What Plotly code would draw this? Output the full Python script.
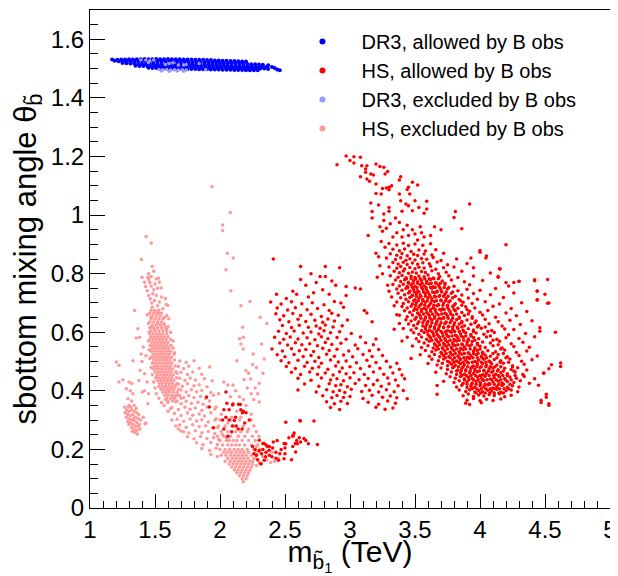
import plotly.graph_objects as go

# points, (m_sbottom [TeV], mixing angle)
dr3_allowed = [
    (1.17,1.531),
    (1.21,1.530),(1.24,1.531),(1.27,1.531),(1.30,1.532),(1.33,1.531),(1.36,1.532),(1.39,1.532),(1.42,1.533),(1.45,1.532),(1.48,1.532),
    (1.51,1.533),(1.54,1.532),(1.57,1.532),(1.60,1.533),(1.63,1.532),(1.66,1.532),(1.69,1.532),(1.72,1.531),(1.75,1.531),(1.78,1.531),
    (1.81,1.530),(1.84,1.530),(1.87,1.530),(1.90,1.529),(1.93,1.529),(1.96,1.528),(1.99,1.528),(2.02,1.527),(2.05,1.527),(2.08,1.526),
    (2.11,1.526),(2.14,1.525),(2.17,1.524),(2.20,1.524),
    (1.19,1.527),(1.22,1.525),(1.25,1.525),(1.28,1.524),(1.31,1.524),(1.34,1.525),(1.37,1.524),(1.40,1.524),(1.43,1.525),(1.46,1.524),
    (1.49,1.524),(1.52,1.525),(1.55,1.524),(1.58,1.524),(1.61,1.524),(1.64,1.523),(1.67,1.524),(1.70,1.523),(1.73,1.523),(1.76,1.522),
    (1.79,1.522),(1.82,1.522),(1.85,1.521),(1.88,1.521),(1.91,1.521),(1.94,1.520),(1.97,1.520),(2.00,1.519),(2.03,1.519),(2.06,1.518),
    (2.09,1.518),(2.12,1.517),(2.15,1.517),(2.18,1.516),(2.21,1.516),(2.24,1.515),(2.27,1.515),(2.30,1.514),(2.33,1.513),
    (1.25,1.519),(1.28,1.518),(1.31,1.517),(1.34,1.517),(1.37,1.516),(1.40,1.516),(1.43,1.516),(1.46,1.517),(1.49,1.516),(1.52,1.516),
    (1.55,1.516),(1.58,1.515),(1.61,1.516),(1.64,1.516),(1.67,1.515),(1.70,1.515),(1.73,1.515),(1.76,1.514),(1.79,1.514),(1.82,1.514),
    (1.85,1.513),(1.88,1.513),(1.91,1.513),(1.94,1.512),(1.97,1.512),(2.00,1.511),(2.03,1.511),(2.06,1.510),(2.09,1.510),(2.12,1.510),
    (2.15,1.509),(2.18,1.509),(2.21,1.508),(2.24,1.508),(2.27,1.507),(2.30,1.507),(2.33,1.506),(2.36,1.506),
    (1.35,1.510),(1.38,1.509),(1.41,1.509),(1.44,1.509),(1.47,1.508),(1.50,1.508),(1.53,1.508),(1.56,1.508),(1.59,1.508),(1.62,1.507),
    (1.65,1.508),(1.68,1.507),(1.71,1.507),(1.74,1.507),(1.77,1.506),(1.80,1.506),(1.83,1.506),(1.86,1.505),(1.89,1.505),(1.92,1.505),
    (1.95,1.504),(1.98,1.504),(2.01,1.503),(2.04,1.503),(2.07,1.503),(2.10,1.502),(2.13,1.502),(2.16,1.502),(2.19,1.501),(2.22,1.501),
    (2.25,1.501),(2.28,1.500),(2.31,1.500),(2.34,1.500),(2.37,1.499),
    (1.45,1.503),(1.48,1.502),(1.51,1.502),(1.54,1.501),(1.57,1.501),(1.60,1.501),(1.63,1.500),(1.66,1.500),(1.69,1.500),(1.72,1.500),
    (1.75,1.499),(1.78,1.499),(1.81,1.499),(1.84,1.498),(1.87,1.498),(1.90,1.498),(1.93,1.497),(1.96,1.497),(1.99,1.497),(2.02,1.496),
    (2.05,1.496),(2.08,1.496),(2.11,1.495),(2.14,1.495),(2.17,1.495),(2.20,1.494),(2.23,1.494),(2.26,1.494),(2.29,1.494),
    (2.37,1.511),(2.40,1.505),(2.42,1.502),(2.44,1.497),(2.46,1.494),
]

dr3_excluded = [
    (1.39,1.529),(1.43,1.529),(1.46,1.527),(1.49,1.529),(1.45,1.521),(1.58,1.514),(1.61,1.517),(1.64,1.520),(1.68,1.512),
    (1.72,1.512),(1.74,1.514),(1.84,1.517),(1.89,1.496),
    (1.53,1.497),(1.56,1.496),(1.59,1.497),(1.62,1.495),(1.65,1.496),(1.68,1.495),(1.71,1.496),(1.74,1.495),
    (1.55,1.492),(1.61,1.491),(1.67,1.492),(1.72,1.491),
]

# HS allowed: the big diagonal cloud at 3.3-4.6 TeV
hs_allowed_big = [
    (2.97,1.202),(3.03,1.199),(3.08,1.197),(3.00,1.186),(3.03,1.178),(2.90,1.172),(3.09,1.168),(3.13,1.168),(3.12,1.157),
    (3.20,1.174),(3.23,1.166),(3.26,1.163),(3.29,1.149),(3.27,1.140),(3.12,1.146),(3.16,1.140),(3.18,1.137),(3.08,1.131),
    (3.13,1.123),(3.15,1.115),(3.20,1.106),(3.25,1.091),(3.28,1.092),(3.30,1.095),(3.32,1.100),(3.39,1.131),(3.38,1.120),
    (3.48,1.112),(3.52,1.103),(3.45,1.095),(3.44,1.087),(3.38,1.072),(3.39,1.049),(3.46,1.072),(3.50,1.049),(3.59,1.047),
    (3.59,1.021),(3.57,1.006),(3.53,1.026),(3.48,1.015),(3.43,1.038),(3.45,1.032),(3.40,1.013),(3.30,1.026),(3.30,1.013),
    (3.26,1.004),(3.26,0.981),(3.22,1.034),(3.16,1.041),(3.17,1.012),(3.17,0.990),(3.20,1.074),(3.24,1.072),(3.30,1.086),
    (3.81,1.012),(3.80,0.992),(3.92,1.038),(3.86,0.953),
    (3.35,0.99),(3.38,0.975),(3.31,0.97),(3.28,0.955),(3.23,0.96),(3.25,0.945),(3.41,0.95),(3.45,0.93),(3.50,0.935),
    (3.55,0.94),(3.57,0.925),(3.62,0.93),(3.54,0.96),(3.14,0.93),(3.24,0.91),(3.27,0.89),(3.22,0.858),(3.23,0.827),
    (3.21,0.788),(3.44,0.965),(3.48,0.95),(3.36,0.94),(3.33,0.925),(3.40,0.925),(3.52,0.915),(3.65,0.96),(3.70,0.95),
    (3.20,0.87),(3.25,0.80),(3.29,0.76),(3.32,0.72),(3.30,0.74),(3.34,0.69),(3.34,0.61),(3.40,0.57),(3.47,0.51),
    (3.36,0.66),(3.38,0.63),
    (4.52,0.78),(4.50,0.73),(4.53,0.70),(4.58,0.60),(4.62,0.483),(4.53,0.475),(4.49,0.46),(4.53,0.356),(4.51,0.378),
    (4.47,0.36),(4.46,0.603),(4.44,0.74),(4.42,0.776),(4.44,0.71),(4.30,0.774),(4.26,0.77),(4.20,0.77),(4.14,0.79),
    (4.155,0.816),(4.045,0.853),(4.00,0.873),(3.93,0.853),(3.95,0.82),
    (3.30,.903),(3.36,.898),(3.41,.904),(3.45,.896),(3.50,.901),(3.56,.897),(3.62,.902),(4.20,.899),
    (3.33,.883),(3.38,.878),(3.42,.884),(3.47,.876),(3.53,.881),(3.58,.877),(3.66,.882),(4.00,.879),
    (3.31,.868),(3.36,.863),(3.40,.869),(3.44,.861),(3.49,.866),(3.52,.862),(3.57,.867),(3.63,.864),(3.72,.870),(4.05,.860),
    (3.28,.853),(3.35,.848),(3.39,.854),(3.43,.846),(3.46,.851),(3.50,.847),(3.55,.852),(3.59,.849),(3.64,.855),(3.70,.845),(3.82,.850),
    (3.33,.838),(3.37,.833),(3.41,.839),(3.44,.831),(3.48,.836),(3.52,.832),(3.56,.837),(3.61,.834),(3.67,.840),(3.75,.830),(3.90,.835),
    (3.30,.823),(3.36,.818),(3.39,.824),(3.42,.816),(3.46,.821),(3.50,.817),(3.53,.822),(3.57,.819),(3.62,.825),(3.66,.815),
    (3.72,.820),(3.80,.823),(4.15,.817),
    (3.34,.808),(3.38,.803),(3.41,.809),(3.45,.801),(3.48,.806),(3.51,.802),(3.55,.807),(3.58,.804),(3.63,.810),(3.68,.800),
    (3.74,.805),(3.86,.808),(4.08,.802),
    (3.31,.793),(3.37,.788),(3.40,.794),(3.43,.786),(3.47,.791),(3.50,.787),(3.53,.792),(3.57,.789),(3.60,.795),(3.64,.785),
    (3.69,.790),(3.76,.793),(3.83,.787),(3.95,.792),(4.14,.788),
    (3.35,.778),(3.39,.773),(3.42,.779),(3.45,.771),(3.49,.776),(3.52,.772),(3.55,.777),(3.59,.774),(3.62,.780),(3.66,.770),
    (3.71,.775),(3.78,.778),(3.88,.772),(4.02,.777),(4.30,.773),(4.42,.779),
    (3.33,.763),(3.38,.758),(3.41,.764),(3.44,.756),(3.47,.761),(3.50,.757),(3.54,.762),(3.57,.759),(3.61,.765),(3.64,.755),
    (3.68,.760),(3.73,.763),(3.80,.757),(3.92,.762),(4.22,.758),
    (3.36,.748),(3.40,.743),(3.43,.749),(3.46,.741),(3.49,.746),(3.52,.742),(3.56,.747),(3.59,.744),(3.63,.750),(3.67,.740),
    (3.70,.745),(3.75,.748),(3.83,.742),(3.90,.747),(4.00,.743),(4.12,.749),(4.44,.741),
    (3.37,.733),(3.42,.728),(3.45,.734),(3.48,.726),(3.51,.731),(3.54,.727),(3.58,.732),(3.61,.729),(3.65,.735),(3.69,.725),
    (3.73,.730),(3.78,.733),(3.86,.727),(3.95,.732),(4.08,.728),(4.26,.734),
    (3.39,.718),(3.43,.713),(3.46,.719),(3.50,.711),(3.53,.716),(3.56,.712),(3.60,.717),(3.63,.714),(3.66,.720),(3.70,.710),
    (3.74,.715),(3.79,.718),(3.84,.712),(3.91,.717),(3.98,.713),(4.18,.719),(4.44,.711),
    (3.36,.703),(3.41,.698),(3.45,.704),(3.48,.696),(3.51,.701),(3.55,.697),(3.58,.702),(3.62,.699),(3.65,.705),(3.68,.695),
    (3.72,.700),(3.76,.703),(3.81,.697),(3.87,.702),(3.94,.698),(4.04,.704),(4.15,.696),(4.32,.701),(4.52,.699),
    (3.40,.688),(3.44,.683),(3.47,.689),(3.50,.681),(3.53,.686),(3.57,.682),(3.60,.687),(3.64,.684),(3.67,.690),(3.71,.680),
    (3.75,.685),(3.79,.688),(3.83,.682),(3.89,.687),(3.96,.683),(4.10,.689),(4.24,.681),
    (3.42,.673),(3.46,.668),(3.49,.674),(3.52,.666),(3.55,.671),(3.59,.667),(3.62,.672),(3.66,.669),(3.70,.675),(3.73,.665),
    (3.77,.670),(3.81,.673),(3.86,.667),(3.92,.672),(4.00,.668),(4.06,.674),(4.20,.666),(4.36,.671),
    (3.38,.658),(3.44,.653),(3.48,.659),(3.51,.651),(3.54,.656),(3.58,.652),(3.61,.657),(3.65,.654),(3.68,.660),(3.72,.650),
    (3.75,.655),(3.79,.658),(3.84,.652),(3.88,.657),(3.94,.653),(4.02,.659),(4.12,.651),(4.28,.656),
    (3.43,.643),(3.47,.638),(3.50,.644),(3.53,.636),(3.57,.641),(3.60,.637),(3.63,.642),(3.67,.639),(3.70,.645),(3.74,.635),
    (3.78,.640),(3.82,.643),(3.86,.637),(3.90,.642),(3.97,.638),(4.04,.644),(4.14,.636),(4.23,.641),(4.40,.639),
    (3.45,.628),(3.49,.623),(3.52,.629),(3.56,.621),(3.59,.626),(3.62,.622),(3.66,.627),(3.69,.624),(3.73,.630),(3.76,.620),
    (3.80,.625),(3.84,.628),(3.88,.622),(3.93,.627),(3.99,.623),(4.07,.629),(4.17,.621),(4.31,.626),
    (3.41,.613),(3.47,.608),(3.51,.614),(3.55,.606),(3.58,.611),(3.61,.607),(3.65,.612),(3.68,.609),(3.72,.615),(3.75,.605),
    (3.79,.610),(3.83,.613),(3.87,.607),(3.91,.612),(3.95,.608),(4.01,.614),(4.09,.606),(4.19,.611),(4.26,.609),(4.46,.615),
    (3.49,.598),(3.53,.593),(3.57,.599),(3.60,.591),(3.64,.596),(3.67,.592),(3.71,.597),(3.74,.594),(3.78,.600),(3.81,.590),
    (3.85,.595),(3.89,.598),(3.93,.592),(3.97,.597),(4.03,.593),(4.11,.599),(4.22,.591),(4.35,.596),
    (3.44,.583),(3.51,.578),(3.55,.584),(3.59,.576),(3.62,.581),(3.66,.577),(3.69,.582),(3.73,.579),(3.76,.585),(3.80,.575),
    (3.83,.580),(3.87,.583),(3.91,.577),(3.95,.582),(3.99,.578),(4.05,.584),(4.13,.576),(4.20,.581),(4.30,.579),(4.42,.585),
    (3.53,.568),(3.57,.563),(3.61,.569),(3.65,.561),(3.68,.566),(3.72,.562),(3.75,.567),(3.79,.564),(3.82,.570),(3.86,.560),
    (3.90,.565),(3.94,.568),(3.98,.562),(4.02,.567),(4.08,.563),(4.15,.569),(4.24,.561),(4.33,.566),
    (3.48,.553),(3.55,.548),(3.60,.554),(3.64,.546),(3.67,.551),(3.71,.547),(3.74,.552),(3.78,.549),(3.81,.555),(3.85,.545),
    (3.88,.550),(3.92,.553),(3.96,.547),(4.00,.552),(4.04,.548),(4.10,.554),(4.17,.546),(4.26,.551),(4.38,.549),
    (3.58,.538),(3.63,.533),(3.66,.539),(3.70,.531),(3.73,.536),(3.77,.532),(3.80,.537),(3.84,.534),(3.87,.540),(3.91,.530),
    (3.95,.535),(3.98,.538),(4.02,.532),(4.06,.537),(4.12,.533),(4.19,.539),(4.28,.531),(4.36,.536),
    (3.54,.523),(3.61,.518),(3.65,.524),(3.69,.516),(3.72,.521),(3.76,.517),(3.79,.522),(3.83,.519),(3.86,.525),(3.90,.515),
    (3.93,.520),(3.97,.523),(4.01,.517),(4.04,.522),(4.08,.518),(4.14,.524),(4.21,.516),(4.30,.521),(4.44,.519),
    (3.63,.508),(3.68,.503),(3.72,.509),(3.75,.501),(3.79,.506),(3.82,.502),(3.85,.507),(3.89,.504),(3.92,.510),(3.96,.500),
    (3.99,.505),(4.03,.508),(4.07,.502),(4.11,.507),(4.16,.503),(4.23,.509),(4.32,.501),(4.40,.506),
    (3.60,.493),(3.67,.488),(3.71,.494),(3.75,.486),(3.78,.491),(3.81,.487),(3.85,.492),(3.88,.489),(3.91,.495),(3.95,.485),
    (3.98,.490),(4.02,.493),(4.05,.487),(4.09,.492),(4.13,.488),(4.18,.494),(4.25,.486),(4.34,.491),(4.55,.489),(4.62,.495),
    (3.70,.478),(3.75,.473),(3.79,.479),(3.83,.471),(3.86,.476),(3.89,.472),(3.93,.477),(3.96,.474),(4.00,.480),(4.03,.470),
    (4.07,.475),(4.10,.478),(4.14,.472),(4.19,.477),(4.24,.473),(4.29,.479),(4.36,.471),
    (3.66,.463),(3.74,.458),(3.78,.464),(3.82,.456),(3.85,.461),(3.88,.457),(3.92,.462),(3.95,.459),(3.98,.465),(4.02,.455),
    (4.05,.460),(4.09,.463),(4.12,.457),(4.16,.462),(4.21,.458),(4.27,.464),(4.33,.456),(4.49,.461),
    (3.77,.448),(3.81,.443),(3.85,.449),(3.88,.441),(3.91,.446),(3.94,.442),(3.98,.447),(4.01,.444),(4.04,.450),(4.08,.440),
    (4.11,.445),(4.15,.448),(4.19,.442),(4.23,.447),(4.28,.443),(4.34,.449),(4.42,.441),
    (3.72,.433),(3.80,.428),(3.84,.434),(3.87,.426),(3.90,.431),(3.94,.427),(3.97,.432),(4.00,.429),(4.03,.435),(4.07,.425),
    (4.10,.430),(4.14,.433),(4.17,.427),(4.21,.432),(4.26,.428),(4.31,.434),(4.38,.426),
    (3.67,.418),(3.82,.413),(3.86,.419),(3.90,.411),(3.93,.416),(3.96,.412),(4.00,.417),(4.03,.414),(4.06,.420),(4.10,.410),
    (4.13,.415),(4.17,.418),(4.21,.412),(4.25,.417),(4.30,.413),(4.45,.419),
    (3.84,.403),(3.89,.398),(3.92,.404),(3.96,.396),(3.99,.401),(4.02,.397),(4.06,.402),(4.09,.399),(4.13,.405),(4.16,.395),
    (4.20,.400),(4.24,.403),(4.29,.397),
    (3.67,.388),(3.87,.383),(3.91,.389),(3.95,.381),(3.99,.386),(4.03,.382),(4.07,.387),(4.11,.384),(4.15,.390),(4.19,.380),
    (4.24,.385),(4.51,.388),
    (3.44,.373),(3.90,.368),(3.95,.374),(4.00,.366),(4.05,.371),(4.10,.367),(4.16,.372),(4.47,.368),
    (3.89,.358),(3.92,.353),(4.01,.359),(4.53,.351),
]

# the solid ridge of that cloud, read between the rows above
hs_allowed_ridge = [
    (3.435,.7825),(3.47,.7825),(3.505,.7825),(3.54,.7825),(3.575,.7825),(3.61,.7825),(3.645,.7825),(3.68,.7825),
    (3.45,.7675),(3.485,.7675),(3.52,.7675),(3.555,.7675),(3.59,.7675),(3.625,.7675),(3.66,.7675),(3.695,.7675),(3.73,.7675),
    (3.445,.7525),(3.48,.7525),(3.515,.7525),(3.55,.7525),(3.585,.7525),(3.62,.7525),(3.655,.7525),(3.69,.7525),(3.725,.7525),(3.76,.7525),
    (3.46,.7375),(3.495,.7375),(3.53,.7375),(3.565,.7375),(3.60,.7375),(3.635,.7375),(3.67,.7375),(3.705,.7375),(3.74,.7375),(3.79,.7375),
    (3.475,.7225),(3.51,.7225),(3.545,.7225),(3.58,.7225),(3.615,.7225),(3.65,.7225),(3.685,.7225),(3.72,.7225),(3.755,.7225),(3.81,.7225),
    (3.49,.7075),(3.525,.7075),(3.56,.7075),(3.595,.7075),(3.63,.7075),(3.665,.7075),(3.70,.7075),(3.735,.7075),(3.77,.7075),(3.85,.7075),
    (3.505,.6925),(3.54,.6925),(3.575,.6925),(3.61,.6925),(3.645,.6925),(3.68,.6925),(3.715,.6925),(3.75,.6925),(3.80,.6925),(3.86,.6925),
    (3.515,.6775),(3.55,.6775),(3.585,.6775),(3.62,.6775),(3.655,.6775),(3.69,.6775),(3.725,.6775),(3.76,.6775),(3.80,.6775),(3.90,.6775),
    (3.53,.6625),(3.565,.6625),(3.60,.6625),(3.635,.6625),(3.67,.6625),(3.705,.6625),(3.74,.6625),(3.775,.6625),(3.82,.6625),(3.91,.6625),
    (3.545,.6475),(3.58,.6475),(3.615,.6475),(3.65,.6475),(3.685,.6475),(3.72,.6475),(3.755,.6475),(3.79,.6475),(3.84,.6475),(3.94,.6475),
    (3.56,.6325),(3.595,.6325),(3.63,.6325),(3.665,.6325),(3.70,.6325),(3.735,.6325),(3.77,.6325),(3.805,.6325),(3.86,.6325),(3.96,.6325),
    (3.58,.6175),(3.615,.6175),(3.65,.6175),(3.685,.6175),(3.72,.6175),(3.755,.6175),(3.79,.6175),(3.825,.6175),(3.86,.6175),(3.98,.6175),(4.04,.6175),
    (3.595,.6025),(3.63,.6025),(3.665,.6025),(3.70,.6025),(3.735,.6025),(3.77,.6025),(3.805,.6025),(3.84,.6025),(3.875,.6025),(3.95,.6025),(4.06,.6025),
    (3.61,.5875),(3.645,.5875),(3.68,.5875),(3.715,.5875),(3.75,.5875),(3.785,.5875),(3.82,.5875),(3.855,.5875),(3.89,.5875),(3.93,.5875),(4.08,.5875),
    (3.63,.5725),(3.665,.5725),(3.70,.5725),(3.735,.5725),(3.77,.5725),(3.805,.5725),(3.84,.5725),(3.875,.5725),(3.91,.5725),(3.96,.5725),(4.10,.5725),
    (3.655,.5575),(3.69,.5575),(3.725,.5575),(3.76,.5575),(3.795,.5575),(3.83,.5575),(3.865,.5575),(3.90,.5575),(3.935,.5575),(3.98,.5575),(4.14,.5575),
    (3.68,.5425),(3.715,.5425),(3.75,.5425),(3.785,.5425),(3.82,.5425),(3.855,.5425),(3.89,.5425),(3.925,.5425),(3.96,.5425),(4.00,.5425),(4.16,.5425),
    (3.705,.5275),(3.74,.5275),(3.775,.5275),(3.81,.5275),(3.845,.5275),(3.88,.5275),(3.915,.5275),(3.95,.5275),(3.985,.5275),(4.02,.5275),(4.10,.5275),(4.18,.5275),
    (3.735,.5125),(3.77,.5125),(3.805,.5125),(3.84,.5125),(3.875,.5125),(3.91,.5125),(3.945,.5125),(3.98,.5125),(4.015,.5125),(4.05,.5125),(4.13,.5125),(4.20,.5125),
    (3.765,.4975),(3.80,.4975),(3.835,.4975),(3.87,.4975),(3.905,.4975),(3.94,.4975),(3.975,.4975),(4.01,.4975),(4.045,.4975),(4.08,.4975),(4.155,.4975),(4.22,.4975),
    (3.80,.4825),(3.835,.4825),(3.87,.4825),(3.905,.4825),(3.94,.4825),(3.975,.4825),(4.01,.4825),(4.045,.4825),(4.08,.4825),(4.115,.4825),(4.16,.4825),(4.25,.4825),
    (3.82,.4675),(3.855,.4675),(3.89,.4675),(3.925,.4675),(3.96,.4675),(3.995,.4675),(4.03,.4675),(4.065,.4675),(4.10,.4675),(4.135,.4675),(4.18,.4675),(4.26,.4675),
    (3.86,.4525),(3.895,.4525),(3.93,.4525),(3.965,.4525),(4.00,.4525),(4.035,.4525),(4.07,.4525),(4.105,.4525),(4.14,.4525),(4.175,.4525),(4.21,.4525),(4.27,.4525),
    (3.88,.4375),(3.915,.4375),(3.95,.4375),(3.985,.4375),(4.02,.4375),(4.055,.4375),(4.09,.4375),(4.125,.4375),(4.16,.4375),(4.195,.4375),(4.24,.4375),
    (3.90,.4225),(3.935,.4225),(3.97,.4225),(4.005,.4225),(4.04,.4225),(4.075,.4225),(4.11,.4225),(4.145,.4225),(4.18,.4225),(4.23,.4225),
    (3.94,.4075),(3.975,.4075),(4.01,.4075),(4.045,.4075),(4.08,.4075),(4.115,.4075),(4.15,.4075),(4.185,.4075),(4.22,.4075),
    (3.97,.3925),(4.005,.3925),(4.04,.3925),(4.075,.3925),(4.11,.3925),(4.145,.3925),(4.18,.3925),
]

# HS allowed: the middle cloud at 2.4-3.45 TeV
hs_allowed_mid = [
    (2.62,0.824),(2.70,0.80),(2.81,0.824),(2.92,0.82),(2.77,0.79),(2.81,0.79),(2.62,0.78),(2.66,0.76),(2.56,0.74),
    (2.59,0.73),(2.435,0.73),(2.74,0.77),(2.86,0.775),(2.89,0.76),(2.97,0.756),(3.04,0.751),(3.08,0.748),(2.97,0.725),
    (2.79,0.745),(2.72,0.735),(2.84,0.73),(2.68,0.72),(2.51,0.715),(2.93,0.70),
    (2.39,.703),(2.47,.696),(2.55,.704),(2.63,.697),(2.71,.701),(2.80,.694),(2.88,.705),
    (2.44,.683),(2.52,.676),(2.58,.684),(2.67,.677),(2.75,.681),(2.84,.674),(2.95,.685),
    (2.43,.663),(2.49,.656),(2.56,.664),(2.62,.657),(2.70,.661),(2.78,.654),(2.86,.665),(2.91,.658),(3.11,.674),(3.13,.666),
    (2.46,.643),(2.53,.636),(2.60,.644),(2.66,.637),(2.73,.641),(2.79,.634),(2.83,.645),(2.88,.638),(2.98,.642),(3.17,.636),
    (2.48,.623),(2.55,.616),(2.61,.624),(2.68,.617),(2.74,.621),(2.77,.614),(2.81,.625),(2.87,.618),(2.94,.622),
    (2.45,.603),(2.51,.596),(2.57,.604),(2.64,.597),(2.70,.601),(2.76,.594),(2.80,.605),(2.85,.598),(2.92,.602),(3.01,.596),
    (2.42,.583),(2.49,.576),(2.54,.584),(2.60,.577),(2.67,.581),(2.73,.574),(2.78,.585),(2.83,.578),(2.90,.582),(2.97,.576),
    (3.08,.584),(3.20,.577),
    (2.46,.563),(2.52,.556),(2.58,.564),(2.63,.557),(2.69,.561),(2.75,.554),(2.81,.565),(2.86,.558),(2.93,.562),(3.04,.556),
    (3.12,.564),(3.18,.557),
    (2.40,.543),(2.48,.536),(2.55,.544),(2.61,.537),(2.66,.541),(2.72,.534),(2.79,.545),(2.84,.538),(2.90,.542),(2.99,.536),
    (3.06,.544),(3.15,.537),(3.22,.541),
    (2.44,.523),(2.50,.516),(2.57,.524),(2.64,.517),(2.70,.521),(2.76,.514),(2.82,.525),(2.88,.518),(2.95,.522),(3.02,.516),
    (3.10,.524),(3.17,.517),(3.25,.521),
    (2.47,.503),(2.53,.496),(2.60,.504),(2.67,.497),(2.73,.501),(2.78,.494),(2.85,.505),(2.91,.498),(2.97,.502),(3.05,.496),
    (3.13,.504),(3.20,.497),(3.28,.501),(3.36,.494),
    (2.51,.483),(2.58,.476),(2.65,.484),(2.71,.477),(2.76,.481),(2.83,.474),(2.89,.485),(2.94,.478),(3.00,.482),(3.08,.476),
    (3.15,.484),(3.23,.477),(3.31,.481),(3.38,.474),
    (2.55,.463),(2.62,.456),(2.69,.464),(2.75,.457),(2.81,.461),(2.87,.454),(2.92,.465),(2.97,.458),(3.03,.462),(3.11,.456),
    (3.18,.464),(3.26,.457),(3.33,.461),(3.40,.454),
    (2.60,.443),(2.70,.436),(2.78,.444),(2.85,.437),(2.90,.441),(2.95,.434),(3.00,.445),(3.07,.438),(3.14,.442),(3.21,.436),
    (3.29,.444),(3.35,.437),(3.42,.441),
    (2.65,.423),(2.76,.416),(2.84,.424),(2.89,.417),(2.93,.421),(2.98,.414),(3.04,.425),(3.12,.418),(3.18,.422),(3.24,.416),
    (3.30,.424),(3.37,.417),
    (2.60,.403),(2.74,.396),(2.82,.404),(2.87,.397),(2.92,.401),(2.96,.394),(3.01,.405),(3.09,.398),(3.15,.402),(3.22,.396),
    (3.28,.404),(3.34,.397),(3.41,.401),
    (2.79,.383),(2.86,.376),(2.90,.384),(2.95,.377),(3.00,.381),(3.10,.374),(3.17,.385),(3.25,.378),(3.31,.382),(3.36,.376),
    (2.82,.363),(2.88,.356),(2.93,.364),(2.98,.357),(3.14,.361),(3.22,.354),(3.29,.365),(3.35,.358),
    (2.85,.343),(2.92,.336),(3.20,.344),(3.27,.337),(3.33,.341),
]

# HS allowed: the low arm at 1.9-2.8 TeV, mixed in with the excluded points
hs_allowed_low = [
    (2.41,0.850),
    (1.897,0.379),(1.918,0.345),(1.951,0.274),(2.046,0.396),(2.053,0.358),(2.03,0.335),(2.07,0.335),(2.10,0.355),
    (2.143,0.354),(2.16,0.335),(2.18,0.33),(2.20,0.325),(2.225,0.30),(2.045,0.31),(2.07,0.30),(2.095,0.28),(2.03,0.27),
    (2.02,0.30),(2.12,0.31),(2.097,0.352),(2.156,0.353),(2.173,0.325),(2.11,0.299),(2.125,0.28),(2.09,0.26),(2.14,0.27),
    (2.06,0.245),(2.19,0.29),(2.17,0.27),
    (2.302,0.231),(2.33,0.22),(2.355,0.215),(2.38,0.21),(2.405,0.205),(2.33,0.20),(2.355,0.19),(2.38,0.18),(2.34,0.163),
    (2.315,0.151),(2.45,0.163),(2.50,0.185),(2.506,0.219),(2.53,0.24),(2.562,0.248),(2.59,0.23),(2.614,0.299),(2.58,0.22),
    (2.62,0.225),(2.68,0.219),(2.55,0.165),(2.506,0.293),(2.618,0.297),(2.723,0.297),(2.57,0.256),(2.56,0.245),(2.61,0.24),
    (2.646,0.237),(2.66,0.23),(2.749,0.217),(2.595,0.219),(2.56,0.21),(2.582,0.191),(2.493,0.22),(2.50,0.205),(2.46,0.185),
    (2.493,0.168),(2.43,0.17),(2.378,0.197),(2.365,0.21),(2.34,0.22),(2.301,0.196),(2.32,0.185),(2.35,0.175),(2.314,0.151),
    (2.40,0.175),(2.43,0.19),(2.27,0.20),(2.28,0.18),(2.25,0.21),(2.29,0.165),(2.26,0.185),(2.41,0.225),(2.47,0.20),(2.44,0.23),
]

hs_allowed = hs_allowed_big + hs_allowed_ridge + hs_allowed_mid + hs_allowed_low

# HS excluded: the pink arc from 1.2 to 2.45 TeV
hs_excluded_spray = [
    (1.938,1.097),(2.079,1.009),(2.020,0.966),(2.020,0.947),(2.058,0.870),(2.102,0.853),(2.046,0.813),(2.084,0.742),
    (2.161,0.690),(2.230,0.705),(2.309,0.651),(2.34,0.509),(2.174,0.617),(2.179,0.583),(2.15,0.578),(2.161,0.560),
    (2.179,0.543),(2.255,0.526),(2.130,0.503),(2.199,0.469),(2.22,0.46),(2.186,0.439),(2.235,0.44),(2.302,0.426),
    (2.27,0.41),(2.302,0.362),(2.24,0.39),(2.29,0.39),(2.21,0.41),(2.26,0.37),(2.33,0.46),(2.32,0.56),(2.28,0.48),
    (2.25,0.49),(2.36,0.63),
    (1.432,0.927),(1.471,0.905),(1.396,0.848),(1.478,0.824),(1.49,0.808),(1.445,0.788),(1.40,0.788),(1.419,0.771),
    (1.453,0.78),(1.509,0.782),(1.527,0.785),(1.534,0.771),(1.427,0.756),(1.471,0.758),(1.44,0.742),(1.483,0.731),
    (1.547,0.751),(1.463,0.714),(1.496,0.708),(1.534,0.703),(1.478,0.685),(1.586,0.695),(1.598,0.691),(1.591,0.657),
    (1.606,0.646),(1.573,0.651),(1.522,0.631),(1.471,0.651),(1.466,0.617),(1.496,0.612),
    (1.45,0.80),(1.47,0.79),(1.50,0.765),(1.52,0.75),(1.46,0.77),(1.49,0.745),(1.51,0.725),(1.45,0.725),(1.475,0.70),
    (1.52,0.69),(1.55,0.72),(1.56,0.68),(1.58,0.715),(1.50,0.67),(1.53,0.665),(1.57,0.63),(1.60,0.62),(1.62,0.60),
    (1.59,0.61),(1.44,0.66),(1.45,0.63),(1.455,0.60),(1.45,0.57),(1.455,0.54),(1.46,0.51),(1.47,0.48),(1.48,0.455),
    (1.49,0.43),(1.50,0.41),(1.51,0.39),(1.53,0.375),(1.55,0.36),(1.57,0.35),(1.66,0.42),(1.67,0.46),(1.65,0.53),
    (1.64,0.57),(1.625,0.555),
    (1.343,0.674),(1.368,0.612),(1.330,0.503),(1.202,0.498),(1.223,0.487),(1.253,0.438),(1.223,0.430),(1.394,0.526),
    (1.40,0.50),(1.420,0.458),(1.376,0.435),(1.402,0.396),(1.445,0.356),(1.424,0.288),(1.381,0.583),(1.41,0.55),
    (1.355,0.58),(1.385,0.47),(1.43,0.52),(1.44,0.43),(1.42,0.40),(1.45,0.39),
]

hs_excluded_knot = [
    (1.30,0.43),(1.32,0.425),(1.279,0.407),(1.31,0.40),(1.33,0.39),(1.292,0.373),(1.32,0.365),(1.266,0.345),(1.30,0.35),
    (1.34,0.35),(1.28,0.335),(1.30,0.33),(1.32,0.335),(1.34,0.33),(1.36,0.325),(1.29,0.32),(1.31,0.315),(1.33,0.318),
    (1.35,0.31),(1.37,0.305),(1.28,0.31),(1.30,0.305),(1.32,0.30),(1.34,0.298),(1.36,0.292),(1.29,0.295),(1.31,0.29),
    (1.33,0.285),(1.35,0.28),(1.37,0.278),(1.32,0.275),(1.34,0.27),(1.36,0.265),(1.345,0.258),(1.365,0.253),(1.38,0.285),
    (1.39,0.30),(1.27,0.325),(1.315,0.345),(1.355,0.34),(1.385,0.27),(1.30,0.285),(1.325,0.262),(1.295,0.345),
    (1.335,0.305),(1.375,0.318),(1.43,0.29),(1.41,0.31),
]

hs_excluded_core = [
    (1.47,.675),(1.50,.675),(1.53,.675),
    (1.46,.665),(1.49,.665),(1.52,.665),(1.55,.665),
    (1.48,.655),(1.51,.655),(1.54,.655),
    (1.47,.645),(1.50,.645),(1.53,.645),(1.56,.645),
    (1.46,.635),(1.49,.635),(1.52,.635),(1.55,.635),
    (1.48,.625),(1.51,.625),(1.54,.625),(1.57,.625),
    (1.46,.615),(1.49,.615),(1.52,.615),(1.55,.615),(1.58,.615),
    (1.47,.605),(1.50,.605),(1.53,.605),(1.56,.605),(1.59,.605),
    (1.46,.595),(1.485,.595),(1.51,.595),(1.535,.595),(1.56,.595),(1.59,.595),
    (1.47,.585),(1.495,.585),(1.52,.585),(1.545,.585),(1.57,.585),(1.60,.585),
    (1.46,.575),(1.485,.575),(1.51,.575),(1.535,.575),(1.56,.575),(1.585,.575),(1.62,.575),
    (1.475,.565),(1.50,.565),(1.525,.565),(1.55,.565),(1.575,.565),(1.60,.565),
    (1.465,.555),(1.49,.555),(1.515,.555),(1.54,.555),(1.565,.555),(1.59,.555),(1.62,.555),
    (1.48,.545),(1.505,.545),(1.53,.545),(1.555,.545),(1.58,.545),(1.605,.545),(1.64,.545),
    (1.47,.535),(1.495,.535),(1.52,.535),(1.545,.535),(1.57,.535),(1.595,.535),(1.62,.535),
    (1.485,.525),(1.51,.525),(1.535,.525),(1.56,.525),(1.585,.525),(1.61,.525),(1.645,.525),
    (1.475,.515),(1.50,.515),(1.525,.515),(1.55,.515),(1.575,.515),(1.60,.515),(1.625,.515),
    (1.49,.505),(1.515,.505),(1.54,.505),(1.565,.505),(1.59,.505),(1.615,.505),(1.65,.505),
    (1.48,.495),(1.505,.495),(1.53,.495),(1.555,.495),(1.58,.495),(1.605,.495),(1.63,.495),
    (1.495,.485),(1.52,.485),(1.545,.485),(1.57,.485),(1.595,.485),(1.62,.485),(1.655,.485),
    (1.485,.475),(1.51,.475),(1.535,.475),(1.56,.475),(1.585,.475),(1.61,.475),(1.635,.475),
    (1.50,.465),(1.525,.465),(1.55,.465),(1.575,.465),(1.60,.465),(1.625,.465),(1.66,.465),
    (1.515,.455),(1.54,.455),(1.565,.455),(1.59,.455),(1.615,.455),(1.64,.455),
    (1.505,.445),(1.53,.445),(1.555,.445),(1.58,.445),(1.605,.445),(1.63,.445),(1.665,.445),
    (1.52,.435),(1.545,.435),(1.57,.435),(1.595,.435),(1.62,.435),(1.645,.435),
    (1.535,.425),(1.56,.425),(1.585,.425),(1.61,.425),(1.635,.425),(1.67,.425),
    (1.53,.415),(1.555,.415),(1.58,.415),(1.605,.415),(1.63,.415),(1.655,.415),
    (1.545,.405),(1.57,.405),(1.595,.405),(1.62,.405),(1.645,.405),(1.68,.405),
    (1.56,.395),(1.585,.395),(1.61,.395),(1.64,.395),(1.67,.395),
    (1.575,.385),(1.60,.385),(1.63,.385),(1.66,.385),(1.69,.385),
    (1.59,.375),(1.62,.375),(1.65,.375),(1.70,.375),
    (1.60,.365),(1.635,.365),(1.67,.365),
]

hs_excluded_arm = [
    (1.69,.502),(1.74,.497),(1.80,.503),
    (1.68,.483),(1.72,.476),(1.76,.484),(1.84,.477),(1.92,.481),
    (1.70,.463),(1.75,.456),(1.79,.464),(1.86,.457),
    (1.69,.443),(1.73,.436),(1.77,.444),(1.81,.437),(1.88,.441),(1.94,.434),
    (1.68,.423),(1.71,.416),(1.75,.424),(1.80,.417),(1.84,.421),(1.90,.414),
    (1.70,.403),(1.74,.396),(1.78,.404),(1.82,.397),(1.86,.401),(1.93,.394),
    (1.67,.383),(1.72,.376),(1.76,.384),(1.80,.377),(1.85,.381),(1.89,.374),(1.95,.385),
    (1.66,.363),(1.70,.356),(1.74,.364),(1.78,.357),(1.83,.361),(1.87,.354),(1.92,.365),
    (1.63,.343),(1.68,.336),(1.73,.344),(1.77,.337),(1.81,.341),(1.86,.334),(1.90,.345),(1.96,.338),
    (1.65,.323),(1.70,.316),(1.75,.324),(1.79,.317),(1.84,.321),(1.88,.314),(1.93,.325),
    (1.67,.303),(1.72,.296),(1.77,.304),(1.82,.297),(1.86,.301),(1.91,.294),(1.97,.305),
    (1.69,.283),(1.74,.276),(1.79,.284),(1.84,.277),(1.89,.281),(1.94,.274),
    (1.70,.263),(1.76,.256),(1.81,.264),(1.86,.257),(1.91,.261),(1.96,.254),
    (1.75,.243),(1.80,.236),(1.85,.244),(1.90,.237),(1.95,.241),(1.99,.234),
    (1.82,.223),(1.87,.216),(1.93,.224),(1.98,.217),
    (1.86,.203),(1.92,.196),(1.97,.204),
    (1.93,.183),(1.98,.176),
    (1.60,.36),(1.62,.34),(1.64,.38),(1.61,.40),(1.58,.37),(1.63,.30),(1.66,.28),(1.68,.27),(1.72,.26),(1.60,.33),
]

hs_excluded_bottom = [
    (2.00,.30),(2.08,.30),(2.15,.30),(2.24,.30),
    (1.99,.28),(2.04,.28),(2.11,.28),(2.18,.28),(2.26,.28),
    (2.01,.26),(2.06,.26),(2.12,.26),(2.16,.26),(2.21,.26),(2.28,.26),
    (1.98,.245),(2.03,.245),(2.08,.245),(2.14,.245),(2.19,.245),(2.25,.245),(2.30,.245),
    (2.00,.23),(2.05,.23),(2.10,.23),(2.13,.23),(2.17,.23),(2.22,.23),(2.27,.23),
    (2.02,.215),(2.06,.215),(2.09,.215),(2.12,.215),(2.15,.215),(2.19,.215),(2.24,.215),(2.29,.215),
    (2.00,.20),(2.04,.20),(2.075,.20),(2.11,.20),(2.14,.20),(2.17,.20),(2.21,.20),(2.26,.20),(2.31,.20),
    (2.03,.19),(2.06,.19),(2.09,.19),(2.125,.19),(2.155,.19),(2.185,.19),(2.22,.19),(2.28,.19),
    (2.01,.18),(2.045,.18),(2.08,.18),(2.11,.18),(2.14,.18),(2.17,.18),(2.20,.18),(2.24,.18),
    (2.06,.17),(2.095,.17),(2.125,.17),(2.155,.17),(2.185,.17),(2.215,.17),(2.26,.17),
    (2.04,.16),(2.08,.16),(2.11,.16),(2.14,.16),(2.17,.16),(2.20,.16),(2.23,.16),
    (2.07,.15),(2.10,.15),(2.13,.15),(2.16,.15),(2.19,.15),(2.22,.15),(2.25,.15),
    (2.09,.14),(2.12,.14),(2.15,.14),(2.18,.14),(2.21,.14),(2.24,.14),
    (2.11,.13),(2.14,.13),(2.17,.13),(2.20,.13),(2.23,.13),
    (2.13,.12),(2.16,.12),(2.19,.12),(2.22,.12),
    (2.15,.11),(2.18,.11),(2.21,.11),
    (2.17,.10),(2.20,.10),
    (2.18,.09),
    (2.28,.21),(2.30,.19),(2.33,.175),(2.36,.165),(2.39,.155),(2.42,.16),(2.27,.17),(2.30,.155),(2.35,.19),(2.45,.17),
    (2.40,.19),(2.25,.16),(2.28,.145),
    (2.03,.43),(2.06,.42),(1.99,.39),(1.97,.345),(2.01,.32),(1.96,.30),(1.98,.275),(2.02,.25),(2.05,.24),(2.07,.23),
    (2.10,.42),(2.12,.40),(2.15,.38),(2.08,.38),(2.13,.33),(2.16,.31),(2.20,.35),(2.22,.27),(2.24,.32),(2.06,.29),
    (2.09,.31),(2.18,.37),
]

hs_excluded = hs_excluded_spray + hs_excluded_knot + hs_excluded_core + hs_excluded_arm + hs_excluded_bottom

legend_names = ["DR3, allowed by B obs", "HS, allowed by B obs",
                "DR3, excluded by B obs", "HS, excluded by B obs"]

FONT = "Liberation Sans, Arial, Helvetica, sans-serif"
BLUE, RED, LBLUE, PINK = "#0000ff", "#ff0000", "#9999ff", "#ff9999"

fig = go.Figure()

# drawing order: excluded light points on top of the blue band, red above pink
for pts, col, sz in [(dr3_allowed, BLUE, 4), (dr3_excluded, LBLUE, 3.5),
                     (hs_excluded, PINK, 3.5), (hs_allowed, RED, 3.5)]:
    xs, ys = zip(*pts)
    fig.add_trace(go.Scatter(x=xs, y=ys, mode="markers", showlegend=False,
                             marker=dict(color=col, size=sz, line=dict(width=0))))

# legend entries in the order of the original
for name, col in zip(legend_names, [BLUE, RED, LBLUE, PINK]):
    fig.add_trace(go.Scatter(x=[None], y=[None], mode="markers", name=name,
                             marker=dict(color=col, size=6, line=dict(width=0))))

# the page has an 8px body margin, so the figure is drawn 8px smaller
fig.update_layout(
    width=610, height=568,
    margin=dict(l=82, r=8, t=2, b=68),
    paper_bgcolor="white", plot_bgcolor="white",
    font=dict(family=FONT, color="black"),
    legend=dict(x=0.372, y=0.976, xanchor="left", yanchor="top",
                bgcolor="rgba(0,0,0,0)", font=dict(size=20),
                itemwidth=68),
)

fig.update_xaxes(
    range=[1, 5], tick0=1, dtick=0.5, ticks="inside", ticklen=14, tickwidth=1,
    tickcolor="black", minor=dict(dtick=0.1, ticks="inside", ticklen=7, tickcolor="black"),
    showgrid=False, zeroline=False, showline=True, linecolor="black", linewidth=1,
    mirror=True, tickfont=dict(size=24), automargin=False, ticklabeloverflow="allow",
    title=dict(text="m<sub>b̃<sub>1</sub></sub> (TeV)", font=dict(size=30), standoff=0),
)
fig.update_yaxes(
    range=[0, 1.7], tick0=0, dtick=0.2, ticks="inside", ticklen=15, tickwidth=1,
    tickcolor="black", minor=dict(dtick=0.05, ticks="inside", ticklen=8, tickcolor="black"),
    showgrid=False, zeroline=False, showline=True, linecolor="black", linewidth=1,
    mirror=True, tickfont=dict(size=24), automargin=False,
    title=dict(text="sbottom mixing angle θ<sub>b̃</sub>", font=dict(size=31), standoff=6),
)

fig.write_html("out.html")
